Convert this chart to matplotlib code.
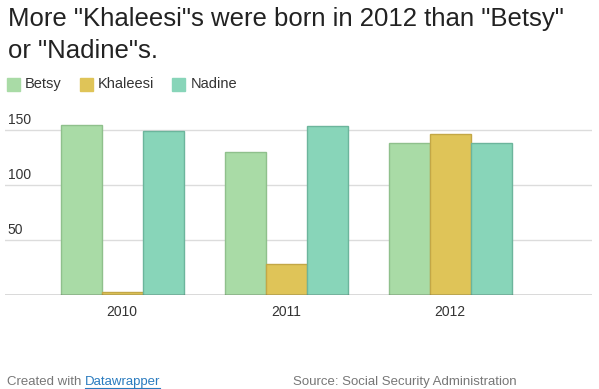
import matplotlib
matplotlib.use("Agg")
import matplotlib.pyplot as plt
import numpy as np

years = ["2010", "2011", "2012"]
series_names = ["Betsy", "Khaleesi", "Nadine"]
betsy = [155, 130, 138]
khaleesi = [3, 28, 146]
nadine = [149, 154, 138]
yticks = [50, 100, 150]

colors = ["#a9dba6", "#dfc458", "#88d5b9"]
edges = ["#8fc08c", "#c3a746", "#6cb59c"]

plt.rcParams["font.family"] = ["Liberation Sans", "DejaVu Sans"]

W, H = 599, 389
fig = plt.figure(figsize=(W / 100, H / 100), dpi=100)
ax_left, ax_right = 5, 592
base_y = 295
top_y = 110
ax = fig.add_axes([ax_left / W, 1 - base_y / H, (ax_right - ax_left) / W, (base_y - top_y) / H])

x = np.arange(len(years))
ppc = 164.0
bw = 41 / ppc
data = [betsy, khaleesi, nadine]
for i, (vals, c, e) in enumerate(zip(data, colors, edges)):
    ax.bar(x + (i - 1) * bw, vals, width=bw, color=c, edgecolor=e, linewidth=1.0, zorder=3)

x0 = 0 - (122 - ax_left) / ppc
x1 = 0 + (ax_right - 122) / ppc
ax.set_xlim(x0, x1)
ymax = (base_y - top_y) / 1.1
ax.set_ylim(0, ymax)

for t in yticks:
    ax.axhline(t, color="#dcdcdc", linewidth=1.0, zorder=1)
    ax.text(0.005, t + 3, str(t), transform=ax.get_yaxis_transform(), fontsize=10,
            color="#333333", va="bottom", ha="left")
ax.axhline(0, color="#444444", linewidth=1.0, zorder=4)

ax.set_yticks([])
ax.set_xticks(x)
ax.set_xticklabels(years, fontsize=10, color="#333333")
ax.tick_params(axis="x", length=0, pad=7)
for s in ax.spines.values():
    s.set_visible(False)

fig.text(8 / W, 1 - 7 / H, "More \"Khaleesi\"s were born in 2012 than \"Betsy\"\nor \"Nadine\"s.",
         fontsize=18.5, color="#222222", va="top", ha="left", linespacing=1.43)

leg_y = 1 - 84 / H
for name, c, lx, tx in zip(series_names, colors, [7, 80, 172], [25, 98, 191]):
    fig.patches.append(plt.Rectangle((lx / W, leg_y - 6.5 / H), 13 / W, 13 / H,
                                     transform=fig.transFigure, color=c, figure=fig))
    fig.text(tx / W, leg_y, name, fontsize=10.5, color="#333333", va="center", ha="left")

fy = 1 - 382 / H
fig.text(7 / W, fy, "Created with", fontsize=9.5, color="#777777", va="center", ha="left")
fig.text(85 / W, fy, "Datawrapper", fontsize=9.5, color="#2a7bbf", va="center", ha="left")
fig.text(293 / W, fy, "Source: Social Security Administration", fontsize=9.5,
         color="#777777", va="center", ha="left")
fig.add_artist(plt.Line2D([85 / W, 160 / W], [1 - 387.5 / H, 1 - 387.5 / H], color="#2a7bbf",
                          linewidth=0.8, transform=fig.transFigure))

fig.savefig("out.png", dpi=100, facecolor="white")
